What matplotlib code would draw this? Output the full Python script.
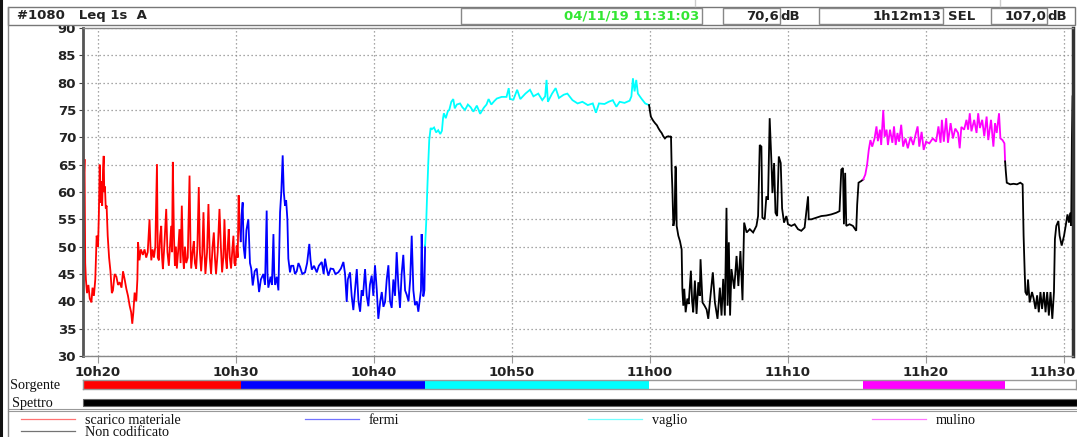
import matplotlib
matplotlib.use("Agg")
import matplotlib.pyplot as plt
import matplotlib.transforms as mtransforms
from matplotlib.patches import Rectangle
from matplotlib.lines import Line2D

W, H = 1077, 437

# time = minutes after 10h00, level = Leq 1s dB(A)
red_t = [18.92, 18.97, 19.02, 19.07, 19.12, 19.2, 19.3, 19.4, 19.52, 19.6, 19.7, 19.8, 19.9, 20.0,
         20.06, 20.12, 20.18, 20.24, 20.3, 20.36, 20.41, 20.45, 20.5, 20.56, 20.62, 20.7, 20.8, 20.9,
         21.0, 21.08, 21.2, 21.33, 21.45, 21.57, 21.7, 21.81, 21.93, 22.05, 22.17, 22.29, 22.4, 22.48,
         22.56, 22.65, 22.77, 22.85, 22.9, 23.0, 23.1, 23.25, 23.37, 23.49, 23.6, 23.73, 23.8, 23.86,
         23.95, 24.05, 24.15, 24.27, 24.33, 24.41, 24.5, 24.58, 24.64, 24.7, 24.8, 24.94, 25.03, 25.13,
         25.22, 25.3, 25.36, 25.42, 25.5, 25.57, 25.64, 25.71, 25.8, 25.9, 25.98, 26.07, 26.15, 26.22,
         26.3, 26.39, 26.5, 26.63, 26.7, 26.75, 26.85, 26.94, 27.02, 27.11, 27.2, 27.3, 27.38, 27.47,
         27.55, 27.64, 27.7, 27.78, 27.9, 28.0, 28.1, 28.19, 28.3, 28.39, 28.47, 28.55, 28.67, 28.8,
         28.9, 28.99, 29.08, 29.16, 29.25, 29.33, 29.4, 29.47, 29.55, 29.64, 29.72, 29.81, 29.88, 29.95,
         30.05, 30.12, 30.19, 30.26, 30.34]
red_db = [70.3, 62, 66, 47, 44, 41.5, 43, 40.5, 39.8, 42.5, 41, 44, 52, 50,
          56, 65, 58, 62, 57.5, 64, 66.6, 60, 61, 57, 57.5, 52, 48, 45.5,
          41.5, 42, 45, 44.5, 43, 43.5, 42.5, 45.5, 44, 42.3, 41, 39.2, 38, 35.9,
          38, 41.6, 40, 44, 50.8, 47.5, 49.5, 48.5, 49.5, 48, 49, 55, 50, 47.5,
          49.5, 48, 50, 65.1, 48, 47.5, 52, 53.8, 48, 45.9, 50, 56.9, 49, 46.5,
          50.5, 53.8, 49, 65.5, 52, 46.5, 50, 46, 49, 53.2, 47, 57.5, 48.5, 46,
          50, 47, 48, 63, 50, 46, 49, 51, 47, 46, 50, 60.9, 49, 45.5,
          48.5, 56.3, 50, 45, 49, 57.8, 48, 45, 50, 52.6, 48, 45, 49, 56.9,
          50, 45.3, 48, 55, 48, 46, 50, 53.2, 48, 46, 49, 52, 47, 46.5,
          50.2, 48, 59.4, 54, 51]

blue_t = [30.34, 30.4, 30.48, 30.55, 30.65, 30.75, 30.89, 31.01, 31.1, 31.21, 31.35, 31.5, 31.58,
          31.67, 31.8, 31.98, 32.1, 32.22, 32.28, 32.34, 32.5, 32.6, 32.71, 32.77, 32.83, 32.95,
          33.07, 33.19, 33.28, 33.38, 33.46, 33.55, 33.63, 33.72, 33.79, 33.91, 34.0, 34.15, 34.27,
          34.4, 34.52, 34.64, 34.8, 35.0, 35.15, 35.31, 35.4, 35.49, 35.65, 35.85, 36.0, 36.21,
          36.35, 36.45, 36.57, 36.69, 36.85, 37.05, 37.2, 37.41, 37.6, 37.78, 37.9, 38.02, 38.1,
          38.26, 38.38, 38.5, 38.62, 38.75, 38.87, 38.99, 39.1, 39.2, 39.35, 39.47, 39.59, 39.7,
          39.83, 39.95, 40.07, 40.2, 40.31, 40.45, 40.56, 40.68, 40.8, 40.92, 41.04, 41.16, 41.28,
          41.4, 41.52, 41.64, 41.76, 41.88, 42.0, 42.12, 42.25, 42.37, 42.5, 42.62, 42.73, 42.85,
          42.97, 43.1, 43.21, 43.3, 43.4, 43.45, 43.52, 43.57, 43.65, 43.7]
blue_db = [51, 55.7, 58.1, 50, 47.8, 53, 55, 47, 46, 42.9, 45.5, 46, 44,
           41.7, 44, 45, 43, 56.6, 45, 42.5, 44.5, 43, 52.3, 45, 43, 44.5,
           42, 56.3, 60, 66.7, 60, 57.5, 58.5, 55, 47.8, 45.3, 46.5, 46.5, 45,
           45.5, 47, 46.3, 45, 45.3, 47, 50.5, 47.5, 45.8, 46.5, 45.3, 46.5, 47.2,
           45, 47.8, 46, 44.7, 46, 45.9, 45, 45.3, 46, 47.2, 45, 39.9, 44,
           45.3, 41, 38.4, 42, 45.9, 40, 38.1, 42, 41, 45.9, 41, 39.1, 43,
           44.7, 41, 46.6, 42, 36.8, 40, 41.7, 39, 39.9, 44, 46.6, 40, 38.8,
           44, 41, 49, 43, 38.8, 45, 48.5, 42, 41.2, 40, 44, 52, 42,
           39.3, 40, 38.1, 40, 42, 52.3, 45, 40.9, 42, 50.2]

cyan_t = [43.7, 43.78, 43.85, 43.93, 44.0, 44.1, 44.2, 44.35, 44.5, 44.65, 44.8, 44.92, 45.0,
          45.06, 45.2, 45.35, 45.45, 45.6, 45.74, 45.85, 46.0, 46.23, 46.4, 46.59, 46.8, 47.0,
          47.2, 47.45, 47.69, 47.95, 48.15, 48.3, 48.5, 48.7, 48.9, 49.25, 49.6, 49.76, 49.85,
          50.1, 50.37, 50.6, 50.97, 51.3, 51.55, 51.9, 52.19, 52.4, 52.5, 52.6, 52.9, 53.16,
          53.4, 53.75, 54.01, 54.38, 54.75, 55.1, 55.49, 55.85, 56.08, 56.3, 56.7, 57.0, 57.3,
          57.56, 57.8, 58.15, 58.52, 58.65, 58.76, 58.88, 59.0, 59.12, 59.37, 59.65, 59.93]
cyan_db = [50.2, 54.4, 59.8, 65.3, 69.5, 71.7, 71.5, 71.8, 70.9, 71.3, 70.6, 71.2, 73.5,
           74.4, 73.5, 74.8, 75, 76.5, 77, 75.3, 76, 76.2, 75.5, 75, 76, 75.5,
           74.7, 75.8, 74.3, 75.4, 76, 77, 76, 76.6, 77.1, 77.4, 77.4, 79, 77,
           76.9, 78.7, 77, 78, 78.7, 77.5, 78, 76.8, 77.5, 80.5, 76.5, 78, 79,
           77.2, 77.8, 78, 76.8, 76.2, 76.5, 75.9, 76.2, 74.5, 76.2, 76.1, 76.5, 76.8,
           75.6, 76.5, 76.3, 76.7, 77.5, 80.8, 78.4, 80.5, 78, 77.1, 76.2, 75.9]

nc1_t = [59.93, 60.0, 60.06, 60.12, 60.24, 60.36, 60.5, 60.6, 60.72, 60.84, 60.96, 61.08, 61.2,
         61.33, 61.45, 61.52, 61.57, 61.62, 61.69, 61.78, 61.84, 61.88, 61.93, 62.05, 62.17, 62.29,
         62.34, 62.41, 62.48, 62.58, 62.7, 62.8, 62.96, 63.05, 63.13, 63.25, 63.37, 63.5, 63.6,
         63.66, 63.8, 63.95, 64.1, 64.22, 64.38, 64.55, 64.7, 64.89, 65.06, 65.18, 65.3, 65.42,
         65.54, 65.62, 65.71, 65.8, 65.9, 66.1, 66.27, 66.4, 66.55, 66.7, 66.82, 67.0, 67.23,
         67.47, 67.71, 67.83, 67.95, 68.07, 68.14, 68.31, 68.43, 68.55, 68.67, 68.8, 68.87, 68.99,
         69.09, 69.21, 69.33, 69.47, 69.57, 69.71, 69.88, 70.0, 70.24, 70.48, 70.72, 70.96, 71.2,
         71.45, 71.5, 71.69, 72.05, 72.41, 72.77, 73.13, 73.49, 73.73, 73.86, 73.98, 74.05, 74.14,
         74.22, 74.46, 74.7, 74.94, 75.01, 75.11, 75.3, 75.45]
nc1_db = [75.9, 74.7, 73.8, 73.5, 73, 72.6, 72.2, 71.7, 71.2, 70.8, 70.2, 69.8, 70.1,
          70.2, 70.1, 70.2, 64, 60.5, 53.8, 55, 64.7, 64.2, 53.8, 52, 51, 49.5,
          42.3, 39.2, 42.3, 38, 40.5, 39.5, 45.6, 40, 38, 43.8, 37.7, 43.5, 41,
          47.7, 39.8, 39.2, 38.5, 36.8, 41, 45.3, 39.8, 36.8, 42.5, 37.4, 44.1, 37.4,
          57.1, 39.2, 50.8, 37.4, 45.9, 42.3, 48.3, 42.8, 49.2, 40.2, 54.4, 52.6, 53.2,
          52.6, 53.8, 55.6, 68.6, 68.3, 55.3, 55, 59.2, 58.6, 73.5, 65.3, 59.8, 65.3,
          56.2, 55.6, 66.5, 65.3, 57, 54.4, 55.6, 54.1, 53.8, 54.1, 53.2, 52.9, 53.5,
          59.2, 55, 55, 55.3, 55.6, 55.7, 55.9, 56.2, 56.5, 64.1, 64.4, 54.1, 63.5,
          53.8, 54.1, 53.8, 52.9, 57.7, 61.7, 62, 62.3]

magenta_t = [75.45, 75.6, 75.73, 75.85, 75.97, 76.1, 76.27, 76.41, 76.51, 76.66, 76.75, 76.9, 77.0,
             77.14, 77.24, 77.39, 77.56, 77.68, 77.8, 77.93, 78.05, 78.2, 78.34, 78.51, 78.68, 78.88,
             79.07, 79.27, 79.39, 79.51, 79.68, 79.83, 80.0, 80.24, 80.49, 80.73, 80.9, 81.05, 81.15,
             81.29, 81.46, 81.59, 81.78, 81.95, 82.12, 82.32, 82.44, 82.56, 82.76, 82.93, 83.05, 83.17,
             83.29, 83.49, 83.66, 83.78, 83.9, 84.07, 84.22, 84.39, 84.51, 84.71, 84.88, 85.0, 85.12,
             85.29, 85.39, 85.54, 85.68, 85.73]
magenta_db = [62.3, 63.2, 65, 67.7, 69.5, 68.3, 69.8, 72, 69.3, 71.4, 68.6, 75, 70.1,
              71.4, 68.6, 71.4, 69, 72, 68.6, 70.8, 69.2, 72.3, 68.3, 69.8, 68, 70.1,
              68.6, 70.8, 72, 68.3, 71, 67.7, 69.2, 68.9, 69.8, 69.2, 72, 69, 73.2,
              69.2, 73.5, 69, 72.6, 69.8, 71.6, 70.8, 68, 71.9, 71.4, 73.2, 71.4, 74.4,
              71.1, 73.2, 70.8, 74.4, 71.7, 73.2, 70.2, 73.8, 69.5, 73.2, 68.3, 72.6, 70.8,
              74.4, 69.8, 69.5, 68.9, 65.6]

nc2_t = [85.73, 85.78, 85.85, 86.1, 86.34, 86.59, 86.83, 87.0, 87.07, 87.15, 87.2, 87.32, 87.39,
         87.51, 87.68, 87.8, 87.93, 88.05, 88.17, 88.29, 88.41, 88.54, 88.66, 88.78, 88.9, 89.02,
         89.15, 89.27, 89.34, 89.44, 89.59, 89.68, 89.83, 90.0, 90.12, 90.25, 90.36, 90.45, 90.52,
         90.57, 90.62]
nc2_db = [65.6, 63.8, 61.7, 61.4, 61.5, 61.4, 61.7, 61.4, 52, 45.3, 41.7, 41.1, 44,
          39.8, 41.7, 40.5, 38.6, 41.1, 38, 41.7, 38.6, 41.7, 38, 41.7, 37.4, 41.7,
          36.8, 41.7, 51.4, 53.8, 54.7, 52, 50.2, 52, 53.8, 55.9, 54.4, 56.2, 53.8,
          69.8, 77.5]

x_ticks = [20, 30, 40, 50, 60, 70, 80, 90]
x_labels = ["10h20", "10h30", "10h40", "10h50", "11h00", "11h10", "11h20", "11h30"]
y_ticks = [30, 35, 40, 45, 50, 55, 60, 65, 70, 75, 80, 85, 90]

legend_labels = ["scarico materiale", "fermi", "vaglio", "mulino", "Non codificato"]
colors = ["#ff0000", "#0000ff", "#00ffff", "#ff00ff", "#000000"]
x_min, x_max = 18.91, 90.65


def fx(px):
    return px / W


def fy(py):
    return 1 - py / H


fig = plt.figure(figsize=(W / 100, H / 100), dpi=100)
fig.patch.set_facecolor("white")
label_font = dict(family="DejaVu Sans", weight="bold", size=9.5, color="#222222")
serif = dict(family=["Liberation Serif", "DejaVu Serif"], size=10.2, color="#111111")

# main plot
ax = fig.add_axes([fx(83), fy(356), (1073 - 83) / W, (356 - 28) / H])
series = [(red_t, red_db, colors[0]), (blue_t, blue_db, colors[1]), (cyan_t, cyan_db, colors[2]),
          (nc1_t, nc1_db, colors[4]), (magenta_t, magenta_db, colors[3]), (nc2_t, nc2_db, colors[4])]
for t, db, c in series:
    ax.plot(t, db, color=c, lw=1.3, solid_joinstyle="miter")
ax.set_xlim(x_min, x_max)
ax.set_ylim(30, 90)
ax.set_xticks(x_ticks)
ax.set_xticklabels(x_labels, fontdict=label_font)
ax.set_yticks(y_ticks)
ax.set_yticklabels([str(v) for v in y_ticks], fontdict=label_font)
ax.tick_params(axis="y", length=3, pad=2, color="#444444")
ax.tick_params(axis="x", length=5, pad=2, color="#999999")
# last time label sits flush with the right edge
last = ax.get_xticklabels()[-1]
last.set_horizontalalignment("right")
last.set_transform(last.get_transform() + mtransforms.ScaledTranslation(0.12, 0, fig.dpi_scale_trans))
ax.grid(True, color="#8a8a8a", linestyle=(0, (1, 2.2)), lw=0.9)
ax.spines["left"].set_linewidth(2)
ax.spines["left"].set_color("#555555")
ax.spines["right"].set_linewidth(2.5)
ax.spines["right"].set_color("#333333")
for s in ["top", "bottom"]:
    ax.spines[s].set_linewidth(1)
    ax.spines[s].set_color("#888888")

# header row
fig.add_artist(Rectangle((fx(8), fy(25)), (1075 - 8) / W, 18 / H, transform=fig.transFigure,
                         facecolor="white", edgecolor="#777777", lw=1))
for x0, x1 in [(461, 702), (723, 780), (819, 943), (991, 1047)]:
    fig.add_artist(Rectangle((fx(x0), fy(24)), (x1 - x0) / W, 16 / H, transform=fig.transFigure,
                             facecolor="none", edgecolor="#888888", lw=1))
fig.text(fx(17), fy(16), "#1080   Leq 1s  A", va="center", ha="left", **label_font)
fig.text(fx(699), fy(16), "04/11/19 11:31:03", va="center", ha="right",
         family="DejaVu Sans", weight="bold", size=9.5, color="#33e633")
fig.text(fx(779), fy(16), "70,6", va="center", ha="right", **label_font)
fig.text(fx(780), fy(16), "dB", va="center", ha="left", **label_font)
fig.text(fx(941), fy(16), "1h12m13", va="center", ha="right", **label_font)
fig.text(fx(948), fy(16), "SEL", va="center", ha="left", **label_font)
fig.text(fx(1046), fy(16), "107,0", va="center", ha="right", **label_font)
fig.text(fx(1047), fy(16), "dB", va="center", ha="left", **label_font)

# source bar
ax_src = fig.add_axes([fx(83), fy(389), (1076 - 83) / W, 9 / H])
ax_src.set_xlim(x_min, x_min + (1076 - 83) * (x_max - x_min) / (1073 - 83))
ax_src.set_ylim(0, 1)
for (t, db, c) in series:
    if c != colors[4]:
        ax_src.axvspan(t[0], t[-1], color=c, lw=0)
ax_src.set_xticks([])
ax_src.set_yticks([])
for s in ax_src.spines.values():
    s.set_color("#999999")
    s.set_linewidth(1)
fig.text(fx(10), fy(384), "Sorgente", va="center_baseline", ha="left", **serif)

# spectrum bar
fig.add_artist(Rectangle((fx(83), fy(406)), (W - 83) / W, 7 / H, transform=fig.transFigure,
                         facecolor="black", edgecolor="#666666", lw=0.8))
fig.text(fx(12), fy(402), "Spettro", va="center_baseline", ha="left", **serif)

# legend block
for yy in [409, 411]:
    fig.add_artist(Line2D([fx(8), 1], [fy(yy), fy(yy)], color="#999999", lw=0.8,
                          transform=fig.transFigure))
leg_pos = [(21, 419), (305, 419), (588, 419), (872, 419), (21, 431)]
for (lx, ly), lab, c in zip(leg_pos, legend_labels, colors):
    fig.add_artist(Line2D([fx(lx), fx(lx + 54)], [fy(ly), fy(ly)], color=c, lw=0.9, alpha=0.55,
                          transform=fig.transFigure))
    fig.text(fx(lx + 64), fy(ly), lab, va="center_baseline", ha="left", **serif)

# outer frame
fig.add_artist(Line2D([fx(1), fx(1)], [0, 1], color="#111111", lw=2.2, transform=fig.transFigure))
fig.add_artist(Line2D([fx(8), fx(8)], [0, fy(7)], color="#888888", lw=1, transform=fig.transFigure))
for xs in [695, 1000]:
    fig.add_artist(Line2D([fx(xs), fx(xs)], [fy(0), fy(6)], color="#cccccc", lw=1,
                          transform=fig.transFigure))

fig.savefig("out.png", dpi=100, facecolor="white")
